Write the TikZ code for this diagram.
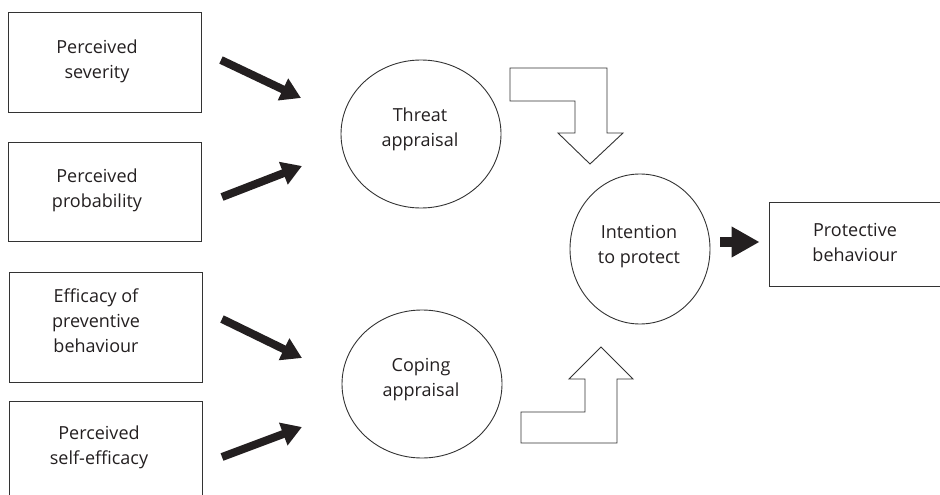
\documentclass[tikz,border=0pt]{standalone}
\usepackage{fontspec}
\setmainfont{Open Sans}
\usetikzlibrary{arrows.meta,shapes.geometric}
\definecolor{ink}{HTML}{231F20}
\definecolor{edge}{HTML}{333333}
\begin{document}
\begin{tikzpicture}[x=1pt,y=-1pt,
  every node/.style={font=\fontsize{18}{25}\selectfont, text=ink, align=center, inner sep=0pt},
  factor/.style={draw=edge, line width=0.9pt, minimum width=193pt},
  appraisal/.style={draw=edge, line width=0.9pt, ellipse, minimum width=160pt, minimum height=148pt},
  fatarrow/.style={draw=ink, line width=8pt, -{Triangle[length=20pt,width=23pt]}},
  shortarrow/.style={draw=ink, line width=10pt, -{Triangle[length=28pt,width=29pt]}},
  hollow/.style={draw=edge, line width=0.9pt, fill=white, line join=miter}]
\useasboundingbox (0,0) rectangle (940,495);

% input factors
\node[factor, minimum height=100pt] (sev) at (104.5,62) {};
\node (sevt) at (97,61) {Perceived\\severity};
\node[factor, minimum height=99pt] (prob) at (104.5,191.5) {};
\node (probt) at (97,190) {Perceived\\probability};
\node[factor, minimum height=110pt] (eff) at (105.5,327) {};
\node (efft) at (96,321) {Efficacy of\\preventive\\behaviour};
\node[factor, minimum height=110pt] (self) at (105.5,456) {};
\node (selft) at (99,447) {Perceived\\self-efficacy};

% appraisal processes
\node[appraisal] (threat) at (421,134) {};
\node (threatt) at (420,129) {Threat\\appraisal};
\node[appraisal] (coping) at (422,384) {};
\node (copingt) at (421,380) {Coping\\appraisal};

% intention and behaviour
\node[draw=edge, line width=0.9pt, ellipse, minimum width=140pt, minimum height=150pt] (intent) at (640,249) {};
\node (intentt) at (639,247) {Intention\\to protect};
\node[draw=edge, line width=0.9pt, minimum width=176pt, minimum height=84pt] (prot) at (857,244) {};
\node (prott) at (855,242) {Protective\\behaviour};

% thick arrows towards the appraisals
\coordinate (a1s) at (221,60);  \coordinate (a1e) at (301,98);
\coordinate (a2s) at (222,197); \coordinate (a2e) at (302,166);
\coordinate (a3s) at (222,319); \coordinate (a3e) at (302,358);
\coordinate (a4s) at (222,457); \coordinate (a4e) at (302,427);
\draw[fatarrow] (a1s) -- (a1e);
\draw[fatarrow] (a2s) -- (a2e);
\draw[fatarrow] (a3s) -- (a3e);
\draw[fatarrow] (a4s) -- (a4e);

% hollow bent arrows into the intention
\draw[hollow] (510,68) -- (607,68) -- (607,133) -- (623,133) -- (590,164)
  -- (558,133) -- (575,133) -- (575,101) -- (510,101) -- cycle;
\draw[hollow] (521,443) -- (617,443) -- (617,379) -- (633,379) -- (601,347)
  -- (569,379) -- (585,379) -- (585,412) -- (521,412) -- cycle;

% intention leads to behaviour
\draw[shortarrow, shorten <=10pt, shorten >=9pt] (intent.east |- 0,242) -- (prot.west |- 0,242);
\end{tikzpicture}
\end{document}
